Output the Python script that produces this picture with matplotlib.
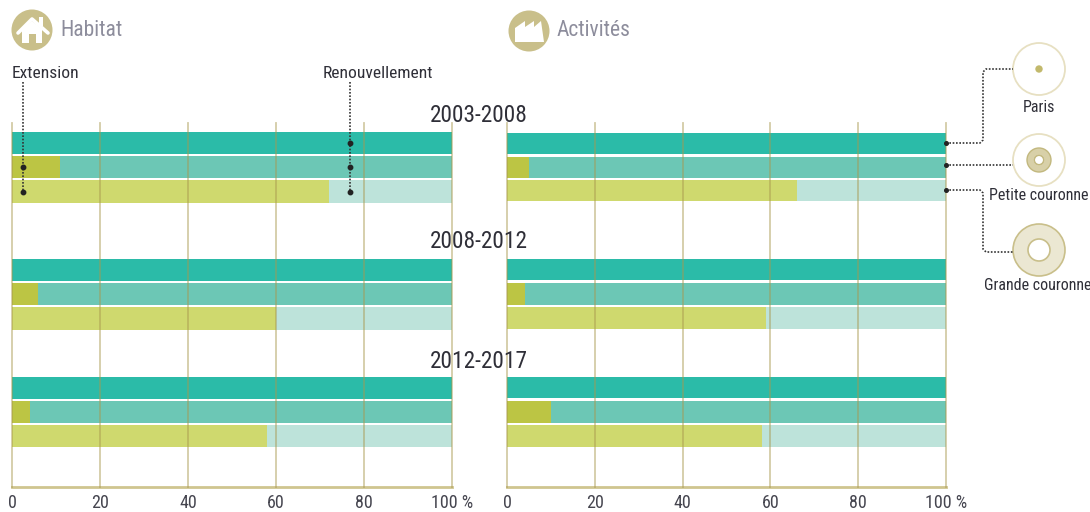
import matplotlib
matplotlib.use("Agg")
import matplotlib.pyplot as plt
from matplotlib.patches import Circle, Polygon, Rectangle, Wedge
from matplotlib import font_manager as fm

names = {f.name for f in fm.fontManager.ttflist}
FONT = next((n for n in ["Roboto Condensed", "Fira Sans Condensed", "Sofia Sans Condensed",
                         "Liberation Sans Narrow", "Liberation Sans"] if n in names), "DejaVu Sans")
plt.rcParams["font.family"] = [FONT, "DejaVu Sans"]

periods = ["2003-2008", "2008-2012", "2012-2017"]
zones = ["Paris", "Petite couronne", "Grande couronne"]
habitat_extension = [[0, 11, 72], [0, 6, 60], [0, 4, 58]]
activites_extension = [[0, 5, 66], [0, 4, 59], [0, 10, 58]]
ticks = [0, 20, 40, 60, 80, 100]
tick_labels = ["0", "20", "40", "60", "80", "100 %"]

W, H = 1090, 512
fig = plt.figure(figsize=(W / 100, H / 100), dpi=100)
TAN = "#cfc58f"
GRID = "#a8984e"
INK = "#2f2f38"
ext_colors = ["#2bbba8", "#bcc544", "#cfd96e"]
ren_colors = ["#2bbba8", "#6cc7b5", "#bde3da"]

def panel(x0, x1, extension, rows):
    ax = fig.add_axes([x0 / W, 1 - 487 / H, (x1 - x0) / W, (487 - 123) / H])
    ax.set_xlim(0, 100)
    ax.set_ylim(487, 123)
    ax.patch.set_alpha(0)
    for g, vals in enumerate(extension):
        for z, v in enumerate(vals):
            top, bot = rows[g][z]
            ax.barh((top + bot) / 2, v, height=bot - top, color=ext_colors[z], lw=0, zorder=2)
            ax.barh((top + bot) / 2, 100 - v, left=v, height=bot - top, color=ren_colors[z], lw=0, zorder=2)
    ax.set_xticks(ticks)
    ax.set_xticklabels(tick_labels, fontsize=13, color="#45454f")
    ax.set_yticks([])
    ax.tick_params(axis="x", length=0, pad=5)
    ax.grid(axis="x", color=GRID, alpha=0.5, lw=1.3, zorder=3, clip_on=False)
    ax.set_axisbelow(False)
    for s in ("top", "left", "right"):
        ax.spines[s].set_visible(False)
    ax.spines["bottom"].set_color(TAN)
    ax.spines["bottom"].set_linewidth(2)
    return ax

rows_left = [[(132, 154), (156, 178), (180, 203)],
             [(259, 281), (283, 305), (307, 330)],
             [(377, 399), (401, 423), (425, 447)]]
rows_right = [[(133, 154), (157, 178), (180, 201)],
              [(259, 280), (283, 305), (307, 329)],
              [(377, 398), (401, 423), (425, 447)]]
panel(12, 452, habitat_extension, rows_left)
panel(507, 946, activites_extension, rows_right)

ov = fig.add_axes([0, 0, 1, 1], zorder=5)
ov.set_xlim(0, W)
ov.set_ylim(H, 0)
ov.axis("off")
ov.patch.set_alpha(0)

def label(x, y, s, size=13, color=INK, ha="center"):
    ov.text(x, y, s, fontsize=size, color=color, ha=ha, va="center")

for y, p in zip([115, 242, 361], periods):
    label(479, y, p, size=16.8)

label(60, 31, "Habitat", size=15.5, color="#8d8d9c", ha="left")
label(557, 31, "Activités", size=15.5, color="#8d8d9c", ha="left")
label(12, 74, "Extension", ha="left", size=12.6)
label(323, 74, "Renouvellement", ha="left", size=12.6)

ICON = "#c9bf8a"
# house icon
ov.add_patch(Circle((32, 30), 20.5, fc=ICON, ec="none"))
ov.add_patch(Polygon([(22, 29), (32, 21), (42, 29), (42, 43), (36, 43), (36, 34), (29, 34), (29, 43), (22, 43)], fc="white", ec="none"))
ov.plot([18, 32, 48], [33, 19, 33], color="white", lw=2.6, solid_capstyle="round")
ov.add_patch(Rectangle((39, 17), 4, 9, fc="white", ec="none"))
# factory icon
ov.add_patch(Circle((529, 31), 20.5, fc=ICON, ec="none"))
ov.add_patch(Polygon([(515, 42), (515, 28), (525, 21), (525, 27), (534, 21), (534, 27), (541, 21), (544, 42)], fc="white", ec="none"))

DOT = dict(color="#333333", lw=1.2, ls=(0, (1, 1)))
ov.plot([23, 23], [82, 192], **DOT)
ov.plot([350, 350], [82, 192], **DOT)
ov.plot([23, 23], [167, 192], "o", color="#222222", ms=3.2)
ov.plot([350, 350, 350], [143, 167, 192], "o", color="#222222", ms=3.2)

ov.plot([946, 980, 983, 983, 986, 1013], [143, 143, 140, 72, 69, 69], **DOT)
ov.plot([946, 1013], [165, 165], **DOT)
ov.plot([946, 980, 983, 983, 986, 1013], [190, 190, 193, 249, 252, 252], **DOT)
ov.plot([946, 946, 946], [143, 165, 190], "o", color="#222222", ms=2.6)

CX = 1039
RING = "#e7e0c2"
for cy in (69, 160):
    ov.add_patch(Circle((CX, cy), 26, fc="white", ec=RING, lw=1.3))
ov.add_patch(Circle((CX, 69), 3.7, fc="#c2b96c", ec="none"))
ov.add_patch(Wedge((CX, 160), 12, 0, 360, width=7.5, fc="#d8d0a8", ec="#c2b87e", lw=1))
ov.add_patch(Circle((CX, 160), 4.5, fc="white", ec="#c2b87e", lw=0.8))
ov.add_patch(Wedge((CX, 250), 26, 0, 360, width=15, fc="#ebe7d2", ec="#c9bf8a", lw=1.2))
label(CX, 107, zones[0], size=11.5)
label(CX, 196, zones[1], size=11.5)
label(1038, 286, zones[2], size=11.5)

fig.savefig("out.png", dpi=100, facecolor="white")
